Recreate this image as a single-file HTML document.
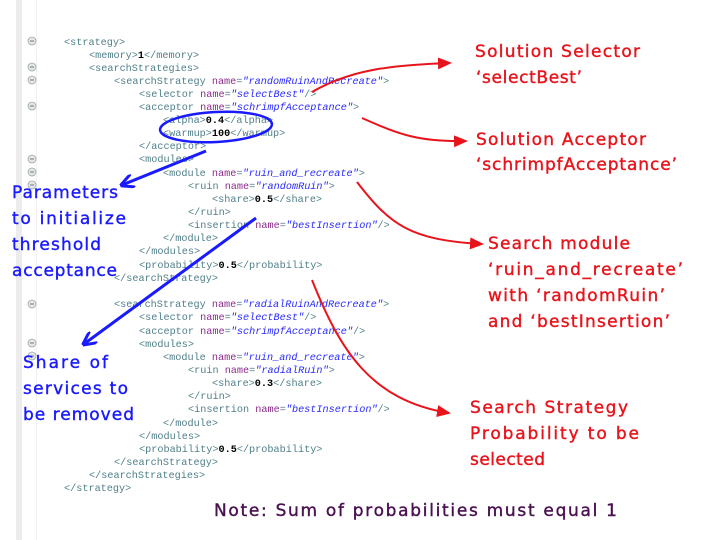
<!DOCTYPE html>
<html><head><meta charset="utf-8"><style>
html,body{margin:0;padding:0;background:#fff}
svg{display:block}
.c{font-family:"Liberation Mono",monospace;font-size:10.2px;fill:#4f7f88}
.a{fill:#8a2a8a}.v{fill:#2a2aff;font-style:italic}.n{fill:#000;font-weight:bold}
.r{font-family:"DejaVu Sans",sans-serif;font-size:17px;fill:#e8141c;stroke:#e8141c;stroke-width:0.4}
.b{font-family:"DejaVu Sans",sans-serif;font-size:17px;fill:#1a1aff;stroke:#1a1aff;stroke-width:0.4}
</style></head><body>
<svg width="720" height="540" xmlns="http://www.w3.org/2000/svg">
<defs>
<marker id="ar" markerWidth="14" markerHeight="12" refX="12" refY="6" orient="auto" markerUnits="userSpaceOnUse"><path d="M0,0 L14,6 L0,12 z" fill="#e8141c"/></marker>
<marker id="ab" markerWidth="14" markerHeight="14" refX="12" refY="7" orient="auto" markerUnits="userSpaceOnUse"><path d="M0,0 L14,7 L0,14" fill="none" stroke="#1a1aff" stroke-width="3"/></marker>
</defs>
<rect x="16" y="0" width="6" height="540" fill="#ececec"/>
<line x1="36.5" y1="0" x2="36.5" y2="540" stroke="#f0f0f0"/>
<g fill="#e6e6e6" stroke="#9aa" stroke-width="0.8">
<circle cx="32" cy="41" r="4"/><circle cx="32" cy="67" r="4"/><circle cx="32" cy="80" r="4"/><circle cx="32" cy="106" r="4"/><circle cx="32" cy="159" r="4"/><circle cx="32" cy="172" r="4"/><circle cx="32" cy="185" r="4"/><circle cx="32" cy="304" r="4"/><circle cx="32" cy="343" r="4"/><circle cx="32" cy="356" r="4"/>
</g>
<g stroke="#778" stroke-width="1">
<path d="M30,41h4M30,67h4M30,80h4M30,106h4M30,159h4M30,172h4M30,185h4M30,304h4M30,343h4M30,356h4"/>
</g>
<g class="c" xml:space="preserve">
<text x="64" y="45">&lt;strategy&gt;</text>
<text x="89" y="58">&lt;memory&gt;<tspan class="n">1</tspan>&lt;/memory&gt;</text>
<text x="89" y="71">&lt;searchStrategies&gt;</text>
<text x="114" y="84">&lt;searchStrategy <tspan class="a">name</tspan>=<tspan class="v">"randomRuinAndRecreate"</tspan>&gt;</text>
<text x="139" y="97">&lt;selector <tspan class="a">name</tspan>=<tspan class="v">"selectBest"</tspan>/&gt;</text>
<text x="139" y="110">&lt;acceptor <tspan class="a">name</tspan>=<tspan class="v">"schrimpfAcceptance"</tspan>&gt;</text>
<text x="163" y="123">&lt;alpha&gt;<tspan class="n">0.4</tspan>&lt;/alpha&gt;</text>
<text x="163" y="136">&lt;warmup&gt;<tspan class="n">100</tspan>&lt;/warmup&gt;</text>
<text x="139" y="149">&lt;/acceptor&gt;</text>
<text x="139" y="162">&lt;modules&gt;</text>
<text x="163" y="176">&lt;module <tspan class="a">name</tspan>=<tspan class="v">"ruin_and_recreate"</tspan>&gt;</text>
<text x="188" y="189">&lt;ruin <tspan class="a">name</tspan>=<tspan class="v">"randomRuin"</tspan>&gt;</text>
<text x="212" y="202">&lt;share&gt;<tspan class="n">0.5</tspan>&lt;/share&gt;</text>
<text x="188" y="215">&lt;/ruin&gt;</text>
<text x="188" y="228">&lt;insertion <tspan class="a">name</tspan>=<tspan class="v">"bestInsertion"</tspan>/&gt;</text>
<text x="163" y="241">&lt;/module&gt;</text>
<text x="139" y="254">&lt;/modules&gt;</text>
<text x="139" y="268">&lt;probability&gt;<tspan class="n">0.5</tspan>&lt;/probability&gt;</text>
<text x="114" y="281">&lt;/searchStrategy&gt;</text>
<text x="114" y="307">&lt;searchStrategy <tspan class="a">name</tspan>=<tspan class="v">"radialRuinAndRecreate"</tspan>&gt;</text>
<text x="139" y="320">&lt;selector <tspan class="a">name</tspan>=<tspan class="v">"selectBest"</tspan>/&gt;</text>
<text x="139" y="334">&lt;acceptor <tspan class="a">name</tspan>=<tspan class="v">"schrimpfAcceptance"</tspan>/&gt;</text>
<text x="139" y="347">&lt;modules&gt;</text>
<text x="163" y="360">&lt;module <tspan class="a">name</tspan>=<tspan class="v">"ruin_and_recreate"</tspan>&gt;</text>
<text x="188" y="373">&lt;ruin <tspan class="a">name</tspan>=<tspan class="v">"radialRuin"</tspan>&gt;</text>
<text x="212" y="386">&lt;share&gt;<tspan class="n">0.3</tspan>&lt;/share&gt;</text>
<text x="188" y="399">&lt;/ruin&gt;</text>
<text x="188" y="412">&lt;insertion <tspan class="a">name</tspan>=<tspan class="v">"bestInsertion"</tspan>/&gt;</text>
<text x="163" y="426">&lt;/module&gt;</text>
<text x="139" y="439">&lt;/modules&gt;</text>
<text x="139" y="452">&lt;probability&gt;<tspan class="n">0.5</tspan>&lt;/probability&gt;</text>
<text x="114" y="465">&lt;/searchStrategy&gt;</text>
<text x="89" y="478">&lt;/searchStrategies&gt;</text>
<text x="64" y="491">&lt;/strategy&gt;</text>
</g>
<g fill="none" stroke="#e8141c" stroke-width="2">
<path d="M312,92 C350,70 390,65 450,63" marker-end="url(#ar)"/>
<path d="M362,118 C400,135 420,142 466,141" marker-end="url(#ar)"/>
<path d="M357,182 C390,225 410,240 482,244" marker-end="url(#ar)"/>
<path d="M312,280 C340,350 370,400 449,413" marker-end="url(#ar)"/>
</g>
<ellipse cx="216" cy="127" rx="56" ry="15" transform="rotate(-3 216 127)" fill="none" stroke="#1a1aff" stroke-width="2.5"/>
<g fill="none" stroke="#1a1aff" stroke-width="3">
<path d="M206,151 L122,185" marker-end="url(#ab)"/>
<path d="M256,218 L84,344" marker-end="url(#ab)"/>
</g>
<g class="r">
<text x="475" y="57" textLength="165">Solution Selector</text>
<text x="476" y="83" textLength="106">‘selectBest’</text>
<text x="476" y="145" textLength="170">Solution Acceptor</text>
<text x="476" y="170" textLength="201">‘schrimpfAcceptance’</text>
<text x="488" y="249" textLength="142">Search module</text>
<text x="488" y="275" textLength="195">‘ruin_and_recreate’</text>
<text x="488" y="301" textLength="177">with ‘randomRuin’</text>
<text x="488" y="327" textLength="182">and ‘bestInsertion’</text>
<text x="470" y="413" textLength="158">Search Strategy</text>
<text x="470" y="439" textLength="169">Probability to be</text>
<text x="470" y="465" textLength="75">selected</text>
</g>
<text x="214" y="516" class="r" style="fill:#4a1050;stroke:#4a1050" textLength="403">Note: Sum of probabilities must equal 1</text>
<g class="b">
<text x="12" y="198" textLength="106">Parameters</text>
<text x="12" y="224" textLength="114">to initialize</text>
<text x="12" y="250" textLength="89">threshold</text>
<text x="12" y="276" textLength="105">acceptance</text>
<text x="23" y="368" textLength="85">Share of</text>
<text x="23" y="394" textLength="105">services to</text>
<text x="23" y="420" textLength="111">be removed</text>
</g>
</svg>
</body></html>
